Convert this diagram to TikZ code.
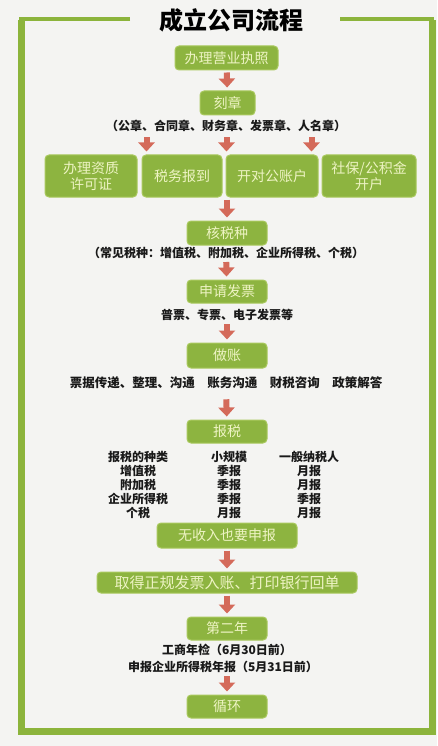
\documentclass[tikz,border=0pt]{standalone}
\usepackage{fontspec}
\setmainfont{Noto Sans CJK SC}
\usetikzlibrary{arrows.meta}
\definecolor{paper}{HTML}{F4F4F2}
\definecolor{framegreen}{HTML}{8CB43C}
\definecolor{boxgreen}{HTML}{8DB440}
\definecolor{boxedge}{HTML}{A9C95E}
\definecolor{boxtext}{HTML}{EEF4C4}
\definecolor{arrowred}{HTML}{D46A5A}
\tikzset{
  stepbox/.style={draw=boxedge, line width=1pt, fill=boxgreen, rounded corners=4pt, text=boxtext,
    font=\fontsize{14}{16}\selectfont, inner sep=0pt, align=center},
  note/.style={font=\bfseries\fontsize{12}{13.5}\selectfont, text=black!90, inner sep=1pt, align=center},
  flow/.style={line width=6pt, draw=arrowred, -{Triangle[width=16pt,length=9pt]}, shorten <=2pt, shorten >=3pt},
}
\begin{document}
\begin{tikzpicture}[x=1pt,y=-1pt]
	\fill[paper] (0,0) rectangle (437,746);
	\useasboundingbox (0,0) rectangle (437,746);
	% frame
	\draw[framegreen, line width=7pt] (21,20) -- (21,731) -- (432,731) -- (432,20);
	\draw[framegreen, line width=4pt] (130,19) -- (19,19);
	\draw[framegreen, line width=4pt] (340,19) -- (434,19);
	\node[font=\bfseries\fontsize{24}{27}\selectfont] (title) at (231,20) {成立公司流程};
	% steps
	\node[stepbox, minimum width=103pt, minimum height=24pt] (lic) at (226.5,58) {办理营业执照};
	\node[stepbox, minimum width=55pt, minimum height=24pt] (stamp) at (227.5,103) {刻章};
	\node[note] (stamps) at (226,126) {（公章、合同章、财务章、发票章、人名章）};
	\node[stepbox, minimum width=92pt, minimum height=42pt] (qual) at (91,176) {办理资质\\许可证};
	\node[stepbox, minimum width=80pt, minimum height=42pt] (taxreg) at (182,176) {税务报到};
	\node[stepbox, minimum width=92pt, minimum height=42pt] (bank) at (272,176) {开对公账户};
	\node[stepbox, minimum width=94pt, minimum height=42pt] (social) at (369,176) {社保/公积金\\开户};
	\node[stepbox, minimum width=80pt, minimum height=24pt] (taxkind) at (227,233) {核税种};
	\node[note] (taxkinds) at (226,253) {（常见税种：增值税、附加税、企业所得税、个税）};
	\node[stepbox, minimum width=80pt, minimum height=23pt] (invoice) at (227,291.5) {申请发票};
	\node[note] (invoices) at (227,315) {普票、专票、电子发票等};
	\node[stepbox, minimum width=80pt, minimum height=25pt] (books) at (227,355.5) {做账};
	\node[note, font=\bfseries\fontsize{12.5}{14}\selectfont] (bookwork) at (226,383) {票据传递、整理、沟通\quad 账务沟通\quad 财税咨询\quad 政策解答};
	\node[stepbox, minimum width=80pt, minimum height=23pt] (filing) at (227,431.5) {报税};
	% filing table
	\foreach \r/\y/\kind/\small/\general in {0/457/报税的种类/小规模/一般纳税人,
	  1/471/增值税/季报/月报, 2/485/附加税/季报/月报, 3/499/企业所得税/季报/季报, 4/513/个税/月报/月报}{
		\node[note] (kind\r) at (138,\y) {\kind};
		\node[note] (small\r) at (229,\y) {\small};
		\node[note] (general\r) at (309,\y) {\general};
	}
	\node[stepbox, minimum width=140pt, minimum height=25pt] (zero) at (227,535.5) {无收入也要申报};
	\node[stepbox, minimum width=260pt, minimum height=21pt, font=\fontsize{15}{17}\selectfont] (receipt) at (227,582.5) {取得正规发票入账、打印银行回单};
	\node[stepbox, minimum width=80pt, minimum height=23pt] (year) at (227,628.5) {第二年};
	\node[note] (check) at (227,650) {工商年检（6月30日前）};
	\node[note] (annual) at (223,667) {申报企业所得税年报（5月31日前）};
	\node[stepbox, minimum width=80pt, minimum height=23pt] (loop) at (227,706.5) {循环};
	% arrows
	\draw[flow] (lic) -- (stamp);
	\draw[flow, shorten <=4pt] ([xshift=5pt]taxreg.north west |- stamps.south) -- ([xshift=5pt]taxreg.north west);
	\draw[flow, shorten <=4pt] ([xshift=1pt]bank.north west |- stamps.south) -- ([xshift=1pt]bank.north west);
	\draw[flow, shorten <=4pt] ([xshift=-7pt]bank.north east |- stamps.south) -- ([xshift=-7pt]bank.north east);
	\draw[flow] (taxkind.north |- bank.south) -- (taxkind.north);
	\draw[flow] (taxkinds) -- (invoice);
	\draw[flow] (invoices) -- (books);
	\draw[flow, shorten <=9pt] (bookwork) -- (filing);
	\draw[flow] (zero) -- (receipt);
	\draw[flow] (receipt) -- (year);
	\draw[flow] (annual.south -| loop.north) -- (loop.north);
\end{tikzpicture}
\end{document}
